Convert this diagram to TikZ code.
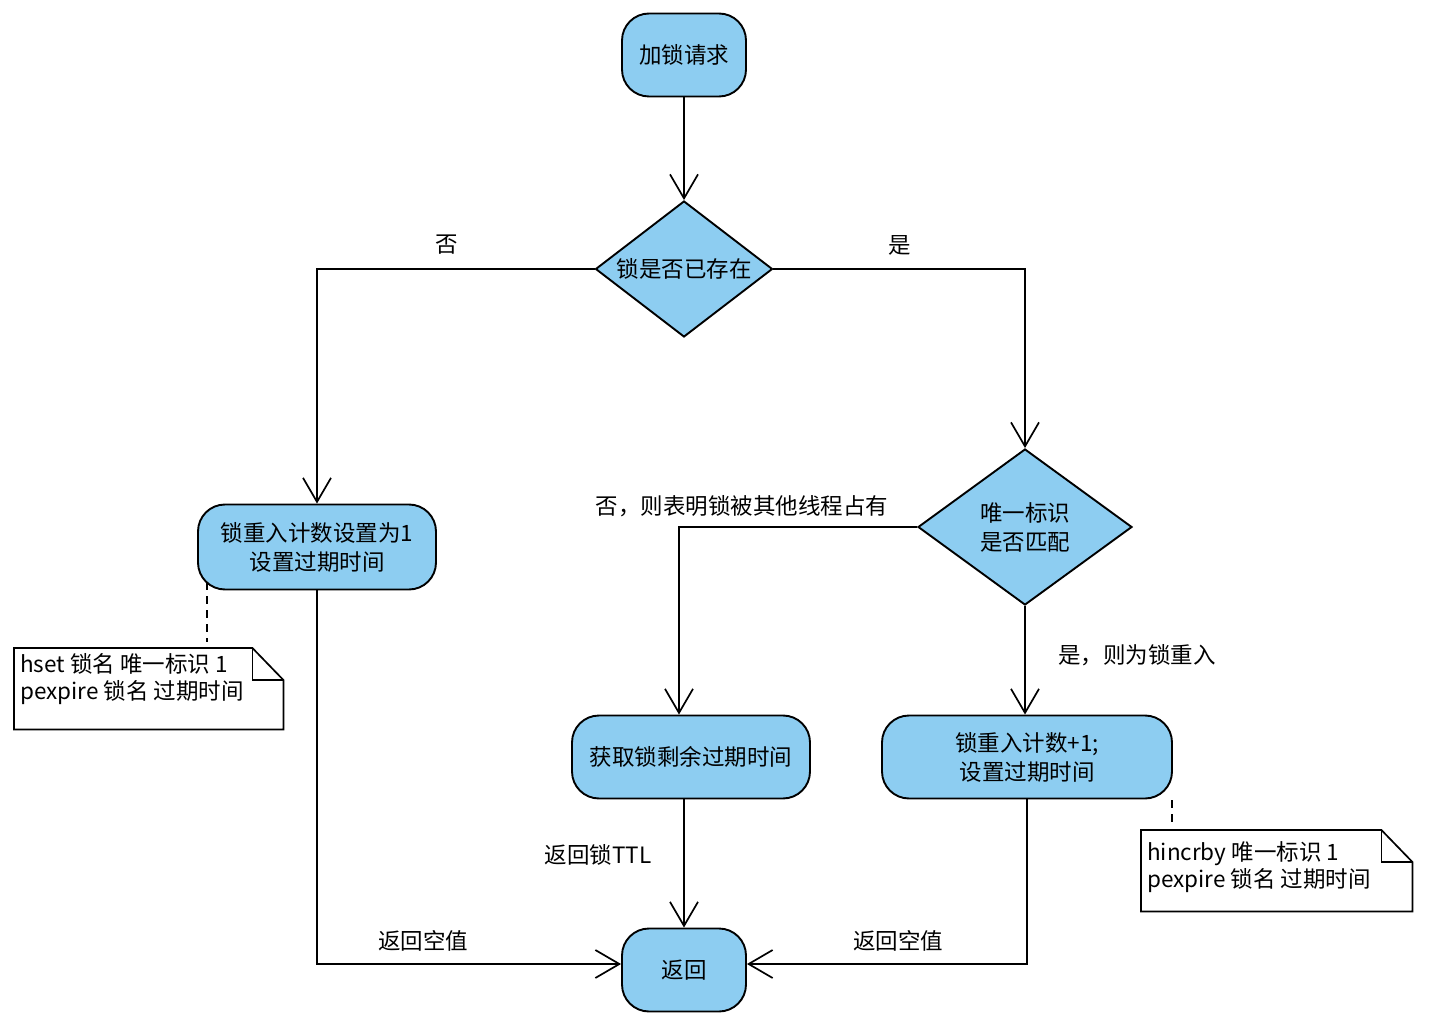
\documentclass[tikz,border=0pt]{standalone}
\usepackage{fontspec}
\setmainfont{Noto Sans CJK SC}
\usetikzlibrary{shapes.geometric,arrows.meta,calc}
\definecolor{boxblue}{RGB}{141,205,241}
\begin{document}
\begin{tikzpicture}[x=1pt,y=-1pt,
  every node/.style={font=\fontsize{22.5}{29}\selectfont},
  rbox/.style={draw=black,line width=1.9pt,fill=boxblue,rounded corners=27pt,inner sep=0pt,align=center},
  dbox/.style={draw=black,line width=1.9pt,fill=boxblue,diamond,inner sep=0pt,align=center},
  conn/.style={line width=1.7pt,-{Straight Barb[length=24pt,width=28pt,line width=1.7pt]}},
  lbl/.style={inner sep=0pt},
  notebox/.style={draw=none,minimum width=269pt,minimum height=81pt,inner sep=0pt},
  notetext/.style={inner sep=0pt,align=left,font=\fontsize{22.5}{27}\selectfont},
  noteline/.style={line width=1.7pt},
  dashline/.style={line width=1.9pt,dash pattern=on 8pt off 6pt}
]
\useasboundingbox (0,0) rectangle (1441,1016);
\fill[white] (0,0) rectangle (1441,1016);

% nodes
\node[rbox,minimum width=124pt,minimum height=83pt] (start) at (684,55) {加锁请求};
\node[dbox,aspect=1.3,minimum width=177pt,minimum height=136pt] (d1) at (684,269) {锁是否已存在};
\node[rbox,minimum width=238pt,minimum height=85pt] (b1) at (317,547) {锁重入计数设置为1\\设置过期时间};
\node[dbox,aspect=1.37,minimum width=214pt,minimum height=156pt] (d2) at (1025,527) {唯一标识\\是否匹配};
\node[rbox,minimum width=238pt,minimum height=83pt] (g) at (691,757) {获取锁剩余过期时间};
\node[rbox,minimum width=290pt,minimum height=83pt] (r) at (1027,757) {锁重入计数+1;\\设置过期时间};
\node[rbox,minimum width=124pt,minimum height=83pt] (ret) at (684,970) {返回};

% notes
\node[notebox,anchor=north west] (n1) at (14,648) {};
\draw[noteline] (n1.north west) -- ($(n1.north east)+(-31,0)$) -- ($(n1.north east)+(0,32)$) -- (n1.south east) -- (n1.south west) -- cycle;
\draw[noteline] ($(n1.north east)+(-31,0)$) -- ($(n1.north east)+(-31,32)$) -- ($(n1.north east)+(0,32)$);
\node[notetext,anchor=north west] (n1t) at (20,653) {hset 锁名 唯一标识 1\\pexpire 锁名 过期时间};

\node[notebox,minimum width=271pt,anchor=north west] (n2) at (1141,830) {};
\draw[noteline] (n2.north west) -- ($(n2.north east)+(-31,0)$) -- ($(n2.north east)+(0,32)$) -- (n2.south east) -- (n2.south west) -- cycle;
\draw[noteline] ($(n2.north east)+(-31,0)$) -- ($(n2.north east)+(-31,32)$) -- ($(n2.north east)+(0,32)$);
\node[notetext,anchor=north west] (n2t) at (1147,841) {hincrby 唯一标识 1\\pexpire 锁名 过期时间};

% dashed links to notes
\coordinate (c1a) at (207,582);
\coordinate (c1b) at (207,642);
\draw[dashline] (c1a) -- (c1b);
\coordinate (c2a) at (1172,800);
\coordinate (c2b) at (1172,826);
\draw[dashline] (c2a) -- (c2b);

% connectors
\draw[conn] (start) -- (d1);
\draw[conn] (d1.west) -| (b1.north);
\draw[conn] (d1.east) -| (d2.north);
\draw[conn] (d2.west) -| ($(g.north)+(-12,0)$);
\draw[conn] (d2.south) -- (d2.south |- r.north);
\draw[conn] (ret.north |- g.south) -- (ret.north);
\draw[conn] (b1.south) |- ($(ret.west)+(0,-6)$);
\draw[conn] (r.south) |- ($(ret.east)+(0,-6)$);

% labels
\node[lbl] (l1) at (447,245) {否};
\node[lbl] (l2) at (900,245) {是};
\node[lbl] (l3) at (742,506) {否，则表明锁被其他线程占有};
\node[lbl] (l4) at (1137,655) {是，则为锁重入};
\node[lbl] (l5) at (598,855) {返回锁TTL};
\node[lbl] (l6) at (423,941) {返回空值};
\node[lbl] (l7) at (898,941) {返回空值};
\end{tikzpicture}
\end{document}
